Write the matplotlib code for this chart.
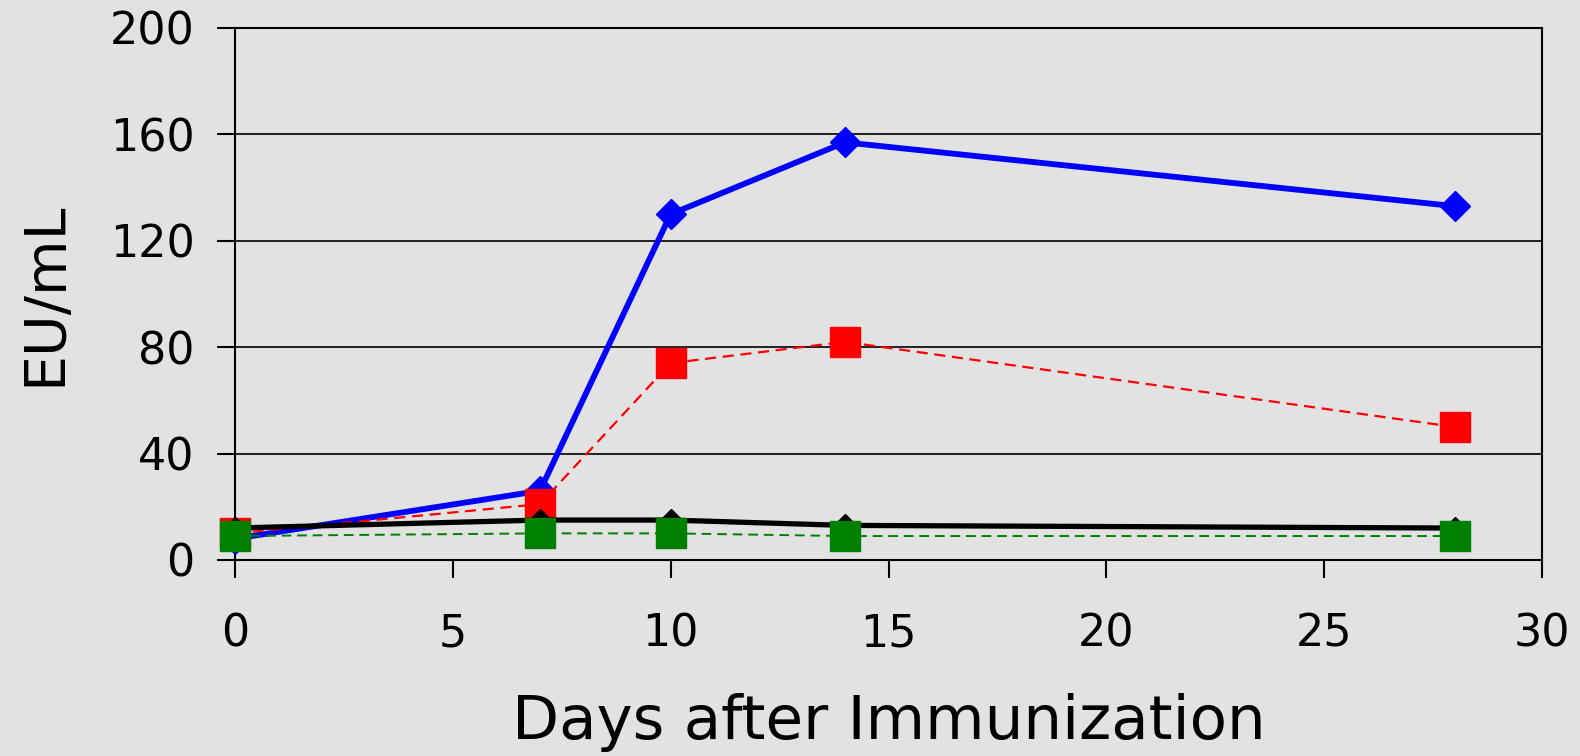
import matplotlib
matplotlib.use("Agg")
import matplotlib.pyplot as plt

days = [0, 7, 10, 14, 28]
blue_vals = [8, 26, 130, 157, 133]
red_vals = [10, 21, 74, 82, 50]
black_vals = [12, 15, 15, 13, 12]
green_vals = [9, 10, 10, 9, 9]
xticks = [0, 5, 10, 15, 20, 25, 30]
yticks = [0, 40, 80, 120, 160, 200]

bg = "#e2e2e2"
fig = plt.figure(figsize=(15.8, 7.56), dpi=100, facecolor=bg)
ax = fig.add_axes([0.1487, 0.2593, 0.976 - 0.1487, 0.963 - 0.2593])
ax.set_facecolor(bg)

ax.plot(days, blue_vals, color="#0000ff", lw=4.2, marker="D", ms=15, zorder=3)
ax.plot(days, red_vals, color="#ff0000", lw=1.6, ls=(0, (5, 3)), marker="s", ms=21, zorder=4)
ax.plot(days, black_vals, color="black", lw=3.8, marker="D", ms=11, zorder=5)
ax.plot(days, green_vals, color="#008000", lw=1.4, ls=(0, (5, 3)), marker="s", ms=21, zorder=6)

ax.set_xlim(0, 30)
ax.set_ylim(0, 200)
ax.set_xticks(xticks)
ax.set_yticks(yticks)
ax.yaxis.grid(True, color="black", lw=1.2)
ax.set_axisbelow(True)
for s in ax.spines.values():
    s.set_linewidth(1.5)
    s.set_color("black")
ax.tick_params(axis="both", direction="out", length=13, width=1.5, labelsize=32, colors="black")
ax.tick_params(axis="y", pad=16)
ax.tick_params(axis="x", pad=25)
ax.set_xlabel("Days after Immunization", fontsize=44, labelpad=27)
ax.set_ylabel("EU/mL", fontsize=41, labelpad=26)
for line in ax.get_lines():
    line.set_clip_on(False)

fig.savefig("out.png", dpi=100, facecolor=bg)
